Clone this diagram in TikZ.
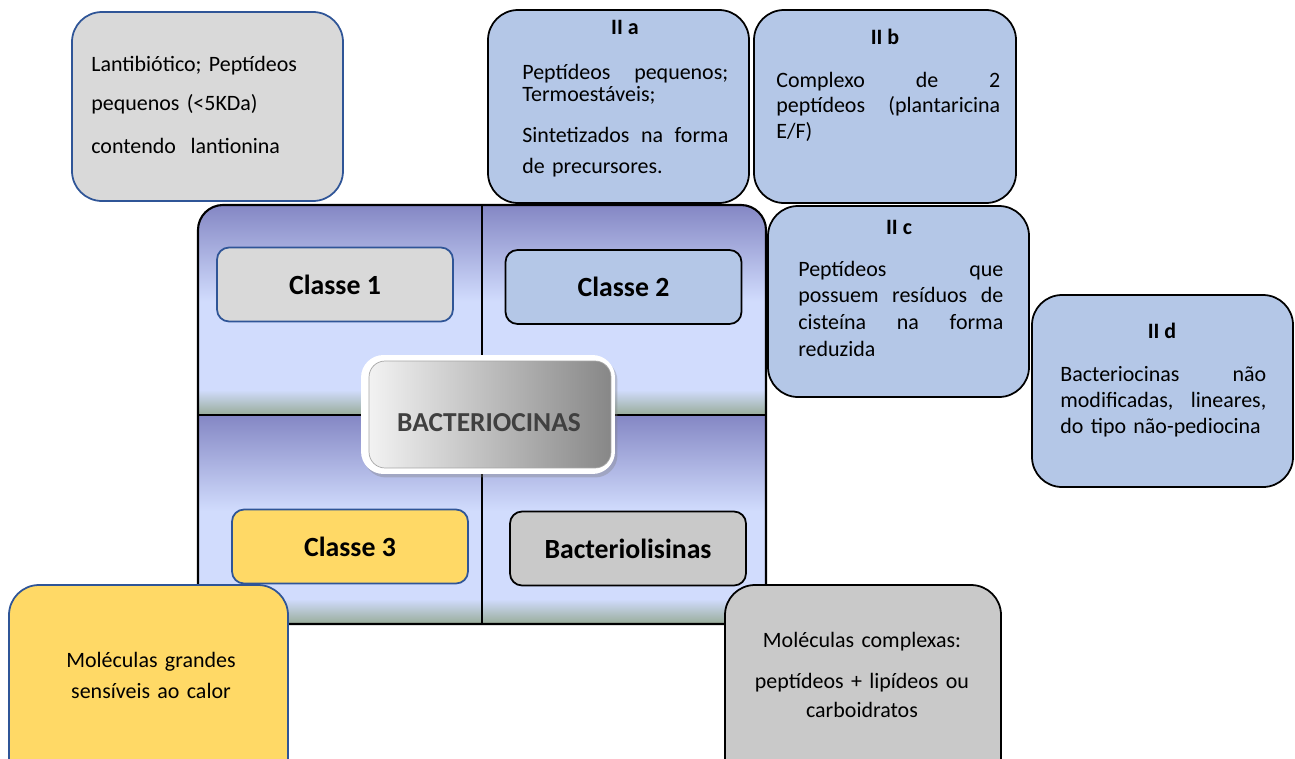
\documentclass[tikz,border=0pt]{standalone}
\usepackage{fontspec}
\setmainfont{Carlito}
\usepackage{tikz}
\usetikzlibrary{shadows}
\frenchspacing

\definecolor{boxgray}{HTML}{D9D9D9}
\definecolor{boxgraydk}{HTML}{C9C9C9}
\definecolor{boxblue}{HTML}{B4C7E7}
\definecolor{boxyellow}{HTML}{FFD966}
\definecolor{lineblue}{HTML}{2F5597}
\definecolor{qtop}{HTML}{8487C4}
\definecolor{qlight}{HTML}{D1DCFD}
\definecolor{qgreen}{HTML}{98AC99}
\definecolor{bactext}{HTML}{404040}

\pgfdeclareverticalshading{quadshade}{100bp}{color(0bp)=(qgreen); color(25bp)=(qgreen); color(31bp)=(qlight); color(52bp)=(qlight); color(75bp)=(qtop); color(100bp)=(qtop)}

\tikzset{
  infobox/.style={rounded corners=0.6cm, line width=1pt},
  infotext/.style={anchor=base west, inner sep=0pt, text width=#1, align=left,
    font=\fontsize{12.5}{14.7}\selectfont},
  centertext/.style={anchor=base, inner sep=0pt, text width=#1, align=center,
    font=\fontsize{12.5}{14.7}\selectfont},
  boxtitle/.style={anchor=base, inner sep=0pt, font=\fontsize{12.5}{14.7}\selectfont\bfseries},
  classbox/.style={rounded corners=0.24cm, line width=1pt, minimum width=4.72cm,
    minimum height=1.48cm, font=\fontsize{15.8}{18}\selectfont\bfseries},
}

\begin{document}
\begin{tikzpicture}[x=0.02cm, y=-0.02cm]
  \useasboundingbox (0,0) rectangle (1295,758);

  % painel central
  \begin{scope}
    \clip[rounded corners=0.5cm] (198,205) rectangle (766,624);
    \shade[shading=quadshade] (198,205) rectangle (482,415);
    \shade[shading=quadshade] (482,205) rectangle (766,415);
    \shade[shading=quadshade] (198,415) rectangle (482,624);
    \shade[shading=quadshade] (482,415) rectangle (766,624);
  \end{scope}
  \draw[line width=1.1pt] (482,205) -- (482,624);
  \draw[line width=1.1pt] (198,415) -- (766,415);
  \draw[line width=1.2pt, rounded corners=0.5cm] (198,205) rectangle (766,624);

  \node[classbox, fill=boxgray, draw=lineblue] (classe1) at (335,284.5) {Classe 1};
  \node[classbox, fill=boxblue, draw=black] (classe2) at (623.5,287) {Classe 2};
  \node[classbox, fill=boxyellow, draw=lineblue] (classe3) at (350,546.5) {Classe 3};
  \node[classbox, fill=boxgraydk, draw=black] (lisinas) at (628,548.5) {Bacteriolisinas};

  \node[fill=white, rounded corners=0.45cm, minimum width=5.08cm, minimum height=2.38cm,
    drop shadow={shadow xshift=0.05cm, shadow yshift=-0.07cm, opacity=0.35}] (bacframe) at (488,414.5) {};
  \node[rounded corners=0.32cm, minimum width=4.84cm, minimum height=2.14cm,
    left color=black!5, middle color=black!20, right color=black!47, draw=black!35, line width=0.4pt] (bacbox) at (490,414.5) {};
  \node[text=bactext, font=\fontsize{15.6}{18}\selectfont\bfseries] (bactitle) at (489,423) {BACTERIOCINAS};

  % caixas de texto
  \draw[infobox, fill=boxgray, draw=lineblue] (72,12) rectangle (343,201);
  \node[infotext=4.3cm] (lanti) at (91,71) {Lantibiótico; Peptídeos\\[8pt]
    pequenos (<5KDa)\\[9.7pt] contendo\ \ lantionina};

  \draw[infobox, fill=boxblue, draw=black] (488,10) rectangle (749,203);
  \node[boxtitle] (tIIa) at (625,34) {II a};
  \node[infotext=4.12cm] (IIa) at (522,79) {Peptídeos\hfill pequenos;\\[-1.7pt]
    Termoestáveis;\\[8.5pt] Sintetizados\hfill na\hfill forma\\[2.9pt] de precursores.};

  \draw[infobox, fill=boxblue, draw=black] (754,10) rectangle (1016,203);
  \node[boxtitle] (tIIb) at (885,44) {II b};
  \node[infotext=4.48cm] (IIb) at (776,87) {Complexo\hfill de\hfill 2\\
    peptídeos\hfill (plantaricina\\ E/F)};

  \draw[infobox, fill=boxblue, draw=black] (768,206) rectangle (1029,397);
  \node[boxtitle] (tIIc) at (899,234) {II c};
  \node[infotext=4.1cm] (IIc) at (798,276) {Peptídeos\hfill que\\[0.6pt]
    possuem\hfill resíduos\hfill de\\[0.6pt] cisteína\hfill na\hfill forma\\[0.6pt] reduzida};

  \draw[infobox, fill=boxblue, draw=black] (1032,295) rectangle (1293,487);
  \node[boxtitle] (tIId) at (1162,338) {II d};
  \node[infotext=4.12cm] (IId) at (1060,381) {Bacteriocinas\hfill não\\[0.3pt]
    modificadas,\hfill lineares,\\[0.3pt] do tipo não-pediocina};

  \begin{scope}
    \clip (0,0) rectangle (1295,758);
    \draw[infobox, fill=boxyellow, draw=lineblue] (9,585) rectangle (288,800);
    \draw[infobox, fill=boxgraydk, draw=black] (725,585) rectangle (1001,800);
  \end{scope}
  \node[centertext=5cm] (grandes) at (151,667) {Moléculas grandes\\[3.4pt] sensíveis ao calor};
  \node[centertext=5cm] (complexas) at (862,647) {Moléculas complexas:\\[9pt]
    peptídeos + lipídeos ou\\[1.7pt] carboidratos};
\end{tikzpicture}
\end{document}
